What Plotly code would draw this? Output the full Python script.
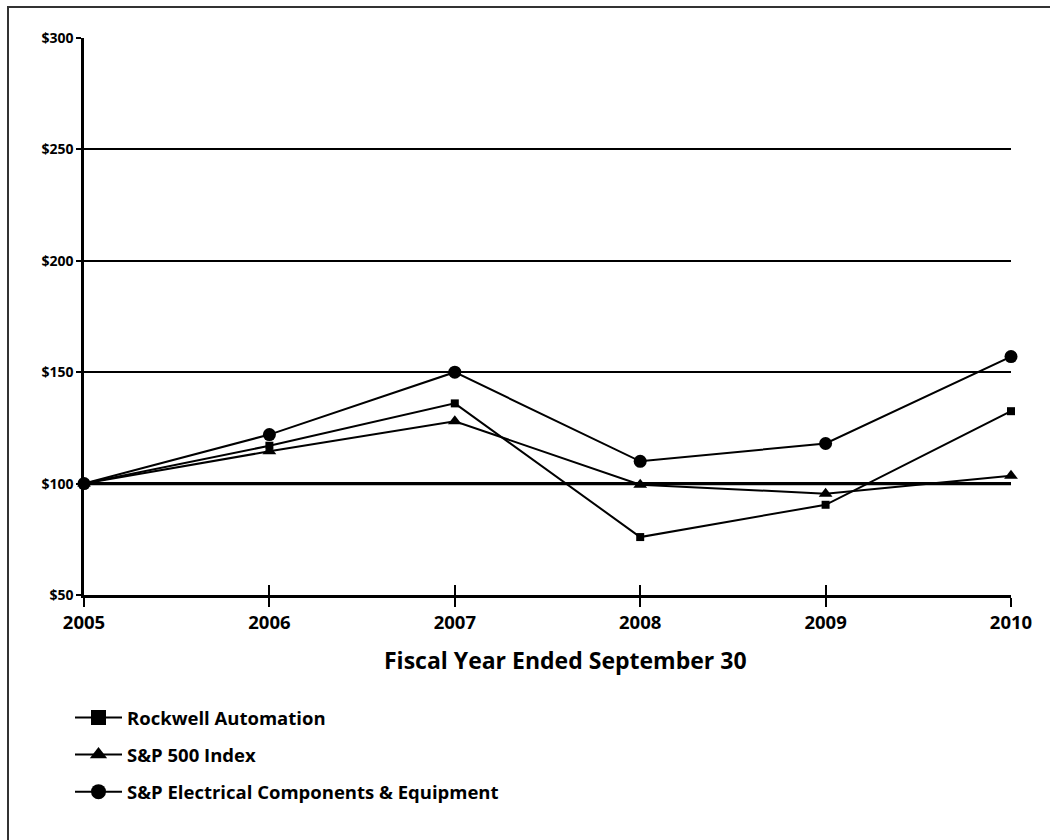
import plotly.graph_objects as go

years = [2005, 2006, 2007, 2008, 2009, 2010]
rockwell = [100, 117, 136, 76, 90.5, 132.5]
sp500 = [100, 114.5, 128, 99.5, 95.5, 103.5]
electrical = [100, 122, 150, 110, 118, 157]
y_ticks = [50, 100, 150, 200, 250, 300]
y_tick_labels = ["$50", "$100", "$150", "$200", "$250", "$300"]
series_names = ["Rockwell Automation", "S&P 500 Index", "S&P Electrical Components & Equipment"]

FONT = "Open Sans"
W, H = 1050, 840
L, T = 84, 38
R, B = W - 1011, H - 595
PW, PH = W - L - R, H - T - B

fig = go.Figure()

specs = [
    (series_names[0], rockwell, "square", 8),
    (series_names[1], sp500, "triangle-up", 12),
    (series_names[2], electrical, "circle", 13),
]
for name, vals, sym, sz in specs:
    fig.add_trace(go.Scatter(
        x=years, y=vals, mode="lines+markers", name=name, showlegend=False,
        line=dict(color="black", width=2),
        marker=dict(symbol=sym, size=sz, color="black"),
        cliponaxis=False,
    ))

# legend-only entries with larger markers
for i, (name, vals, sym, sz) in enumerate(specs):
    fig.add_trace(go.Scatter(
        x=[None], y=[None], mode="lines+markers", name=name,
        legendgroup=f"g{i}",
        line=dict(color="black", width=2),
        marker=dict(symbol=sym, size=15, color="black"),
    ))

# overlay axis to produce ticks crossing the x-axis line
fig.add_trace(go.Scatter(x=years, y=[None]*len(years), xaxis="x2", showlegend=False, hoverinfo="skip"))

fig.update_layout(
    width=W, height=H,
    margin=dict(l=L, r=R, t=T, b=B),
    paper_bgcolor="white", plot_bgcolor="white",
    font=dict(family=FONT, color="black"),
    xaxis=dict(
        range=[2005, 2010], tickmode="array", tickvals=years, ticktext=[str(y) for y in years],
        showgrid=False, zeroline=False, showline=True, linecolor="black", linewidth=2.5,
        ticks="outside", ticklen=9, tickwidth=2, tickcolor="black",
        tickfont=dict(family=FONT, size=18.5, weight="bold"),
    ),
    xaxis2=dict(
        range=[2005, 2010], overlaying="x", tickmode="array", tickvals=years,
        showticklabels=False, showgrid=False, zeroline=False, showline=False,
        ticks="inside", ticklen=10, tickwidth=2, tickcolor="black",
    ),
    yaxis=dict(
        range=[50, 300], tickmode="array", tickvals=y_ticks, ticktext=y_tick_labels,
        showgrid=True, gridcolor="black", gridwidth=2, zeroline=False,
        showline=True, linecolor="black", linewidth=2.5,
        ticks="outside", ticklen=5, tickwidth=2, tickcolor="black",
        tickfont=dict(family=FONT, size=14, weight="bold"),
    ),
    legend=dict(
        x=-14 / PW, y=-104 / PH, xanchor="left", yanchor="top",
        traceorder="grouped", tracegroupgap=10, itemwidth=47,
        font=dict(family=FONT, size=18.5, weight="bold"),
        bgcolor="rgba(0,0,0,0)",
    ),
    annotations=[dict(
        text="Fiscal Year Ended September 30", xref="paper", yref="paper",
        x=(565 - L) / PW, y=-65 / PH, xanchor="center", yanchor="middle",
        showarrow=False, font=dict(family=FONT, size=23, weight="bold"),
    )],
    shapes=[
        dict(type="line", xref="paper", yref="y", x0=0, x1=1, y0=100, y1=100,
             line=dict(color="black", width=3.2), layer="above"),
        dict(type="line", xref="paper", yref="paper", x0=-(L - 7) / PW, x1=(W - L + 5) / PW,
             y0=1 + (T - 7) / PH, y1=1 + (T - 7) / PH, line=dict(color="#333333", width=2)),
        dict(type="line", xref="paper", yref="paper", x0=-(L - 8) / PW, x1=-(L - 8) / PW,
             y0=-(B + 5) / PH, y1=1 + (T - 6) / PH, line=dict(color="#333333", width=2)),
    ],
)

fig.write_html(
    "out.html",
    config={"displayModeBar": False},
    post_script="document.body.style.margin='0';document.body.style.overflow='hidden';"
                "document.documentElement.style.overflow='hidden';",
)
